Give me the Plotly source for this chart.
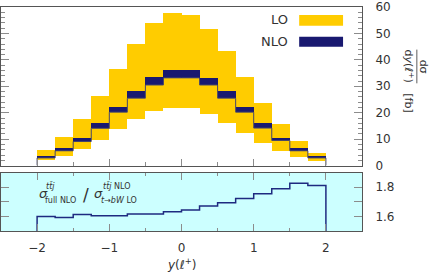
import plotly.graph_objects as go

# ---------------- data ----------------
bin_edges = [-2.0, -1.75, -1.5, -1.25, -1.0, -0.75, -0.5, -0.25, 0.0,
             0.25, 0.5, 0.75, 1.0, 1.25, 1.5, 1.75, 2.0]
lo_high = [6.0, 10.9, 17.8, 26.4, 36.5, 46.0, 54.0, 57.8,
           57.0, 51.6, 43.2, 33.4, 23.7, 15.6, 9.3, 4.8]
lo_low = [2.0, 3.8, 6.4, 9.7, 13.7, 17.5, 20.6, 21.8,
          21.6, 19.7, 16.2, 12.5, 8.7, 5.6, 3.3, 1.6]
nlo_low = [2.9, 5.6, 9.1, 14.1, 20.2, 25.5, 30.5, 33.2,
           33.2, 30.5, 25.5, 20.2, 14.2, 9.5, 5.6, 2.9]
nlo_high = [3.7, 6.5, 10.6, 16.0, 22.1, 28.3, 33.5, 36.3,
            36.3, 33.2, 28.3, 22.1, 16.0, 10.6, 6.5, 3.7]
ratio = [1.600, 1.593, 1.612, 1.605, 1.605, 1.617, 1.617, 1.632,
         1.643, 1.671, 1.693, 1.722, 1.755, 1.789, 1.827, 1.811]
x_tick_vals = [-2, -1, 0, 1, 2]
x_tick_text = ["\u22122", "\u22121", "0", "1", "2"]
main_y_ticks = [0, 10, 20, 30, 40, 50, 60]
ratio_tick_vals = [1.6, 1.7, 1.8]
ratio_tick_text = ["1.6", "", "1.8"]

# ---------------- geometry helpers ----------------
W, H = 436, 273
L, R, T, B = 0, 74, 5, 42
PW, PH = W - L - R, H - T - B


def px(x):
    return (x - L) / PW


def py(y):
    return (H - B - y) / PH


FONT = "DejaVu Sans"
LO_COL = "#ffcc00"
NLO_COL = "#191970"
LINE_COL = "#555555"
TICK_COL = "#8c8c8c"

centers = [(a + b) / 2 for a, b in zip(bin_edges[:-1], bin_edges[1:])]
widths = [b - a for a, b in zip(bin_edges[:-1], bin_edges[1:])]

fig = go.Figure()

fig.add_trace(go.Bar(x=centers, y=[h - l for h, l in zip(lo_high, lo_low)],
                     base=lo_low, width=widths, marker=dict(color=LO_COL, line=dict(width=0)),
                     xaxis="x", yaxis="y", showlegend=False))
fig.add_trace(go.Bar(x=centers, y=[h - l for h, l in zip(nlo_high, nlo_low)],
                     base=nlo_low, width=widths, marker=dict(color=NLO_COL, line=dict(width=0)),
                     xaxis="x", yaxis="y", showlegend=False))

# step outline of NLO (lower edge) with drops to zero at the ends
sx = [bin_edges[0]] + bin_edges[:-1] + [bin_edges[-1]]
sy = [0] + nlo_low + [0]
fig.add_trace(go.Scatter(x=sx, y=sy, mode="lines", line=dict(shape="hv", color="#45456a", width=1),
                         xaxis="x", yaxis="y", showlegend=False, hoverinfo="skip"))

# ratio step line
ry = [0] + ratio + [0]
fig.add_trace(go.Scatter(x=sx, y=ry, mode="lines", line=dict(shape="hv", color="#1e2a80", width=1.5),
                         xaxis="x2", yaxis="y2", showlegend=False, hoverinfo="skip"))

main_dom = [py(165), 1.0]
ratio_dom = [0.0, py(172)]

common_x = dict(range=[-2.5, 2.5], showline=True, linecolor=LINE_COL, linewidth=1,
                ticks="inside", tickcolor=TICK_COL, ticklen=7, tickwidth=1,
                tickvals=x_tick_vals, showgrid=False, zeroline=False,
                minor=dict(dtick=0.5, tick0=0, ticks="inside", ticklen=3.5,
                           tickcolor=TICK_COL, showgrid=False))

fig.update_layout(
    width=W, height=H, margin=dict(l=L, r=R, t=T, b=B),
    paper_bgcolor="white", plot_bgcolor="white",
    barmode="overlay", bargap=0,
    font=dict(family=FONT, size=12, color="#333333"),
    xaxis=dict(common_x, domain=[0, 1], anchor="y", showticklabels=False, mirror=True),
    xaxis2=dict(common_x, domain=[0, 1], anchor="y2", matches="x", mirror="ticks",
                showticklabels=True, ticktext=x_tick_text, ticklabelstandoff=6,
                tickfont=dict(size=12, color="#333333")),
    yaxis=dict(domain=main_dom, anchor="x", range=[0, 60.001], side="right",
               showline=True, linecolor=LINE_COL, mirror="ticks",
               ticks="inside", tickcolor=TICK_COL, ticklen=8, tickvals=main_y_ticks,
               minor=dict(dtick=2, ticks="inside", ticklen=4, tickcolor=TICK_COL, showgrid=False),
               showgrid=False, zeroline=False, ticklabelstandoff=10,
               ticklabeloverflow="allow",
               tickfont=dict(size=12, color="#333333")),
    yaxis2=dict(domain=ratio_dom, anchor="x2", range=[1.5, 1.9], side="right",
                showline=True, linecolor=LINE_COL, mirror="ticks",
                ticks="inside", tickcolor=TICK_COL, ticklen=8,
                tickvals=ratio_tick_vals, ticktext=ratio_tick_text,
                showgrid=False, zeroline=False, ticklabelstandoff=10,
                tickfont=dict(size=12, color="#333333")),
)

shapes = []
# cyan background of ratio panel
shapes.append(dict(type="rect", xref="x2 domain", yref="y2 domain", x0=0, x1=1, y0=0, y1=1,
                   fillcolor="#ccffff", line=dict(width=0), layer="below"))
# legend swatches
shapes.append(dict(type="rect", xref="paper", yref="paper", x0=px(299), x1=px(343),
                   y0=py(24), y1=py(13), fillcolor=LO_COL, line=dict(width=0)))
shapes.append(dict(type="rect", xref="paper", yref="paper", x0=px(299), x1=px(343),
                   y0=py(45), y1=py(35), fillcolor=NLO_COL, line=dict(width=0)))
# fraction bar of the y title (rotated)
shapes.append(dict(type="line", xref="paper", yref="paper", x0=px(417), x1=px(417),
                   y0=py(48), y1=py(82), line=dict(color="#333333", width=0.8)))
fig.update_layout(shapes=shapes)

ann = []


def A(text, x, y, size=12, xanchor="center", yanchor="middle", angle=0):
    ann.append(dict(text=text, x=px(x), y=py(y), xref="paper", yref="paper", showarrow=False,
                    xanchor=xanchor, yanchor=yanchor, textangle=angle,
                    font=dict(family=FONT, size=size, color="#333333")))


# legend text
A("LO", 290, 18, size=13, xanchor="right")
A("NLO", 290, 40, size=13, xanchor="right")
# x title
A("<i>y</i>(<i>ℓ</i><sup>+</sup>)", 181, 264.5, size=12)
# y title (rotated clockwise, fraction)
A("dσ", 424, 65, size=11, angle=90)
A("d<i>y</i>(<i>ℓ</i><sup>+</sup>)", 409, 65, size=11, angle=90)
A("[fb]", 409, 102, size=11, angle=90)
# ratio label
A("<i>σ</i>", 36, 193, size=13, xanchor="left")
A("<i>t</i><i>t̄</i><i>j</i>", 43, 185.5, size=8, xanchor="left")
A("full NLO", 42, 200, size=8, xanchor="left")
A("/", 85.5, 195, size=17)
A("<i>σ</i>", 91, 193, size=13, xanchor="left")
A("<i>t</i><i>t̄</i><i>j</i> NLO", 100, 185.5, size=8, xanchor="left")
A("<i>t</i>→<i>bW</i> LO", 98, 200, size=8, xanchor="left")

fig.update_layout(annotations=ann)

fig.write_html("out.html", post_script="document.body.style.margin='0';",
               config={"displayModeBar": False})
